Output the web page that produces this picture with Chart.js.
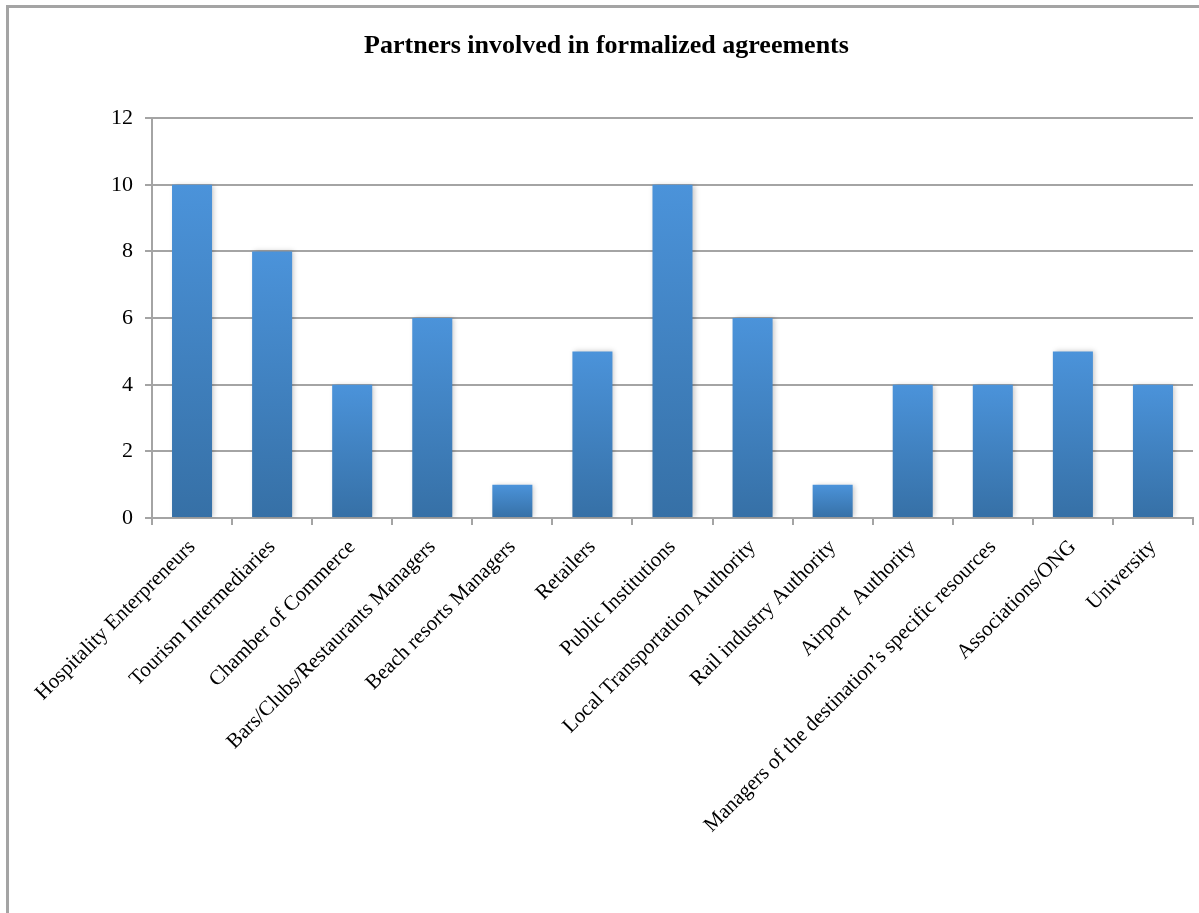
<!DOCTYPE html>
<html>
<head>
<meta charset="utf-8">
<script src="https://cdn.jsdelivr.net/npm/chart.js@4/dist/chart.umd.min.js"></script>
<style>
    html, body { margin: 0; padding: 0; background: #fff; }
    body { width: 1199px; height: 913px; position: relative; overflow: hidden; }
    #frame {
        position: absolute; left: 6px; top: 5px; width: 1400px; height: 1000px;
        border-left: 3px solid #a4a4a4; border-top: 3px solid #a4a4a4;
    }
    #chartWrap { position: absolute; left: 0; top: 0; width: 1199px; height: 913px; }
</style>
</head>
<body>
<div id="frame"></div>
<div id="chartWrap"><canvas id="partnersChart"></canvas></div>
<script>
// === Data ===
const categories = [
    'Hospitality Enterpreneurs',
    'Tourism Intermediaries',
    'Chamber of Commerce',
    'Bars/Clubs/Restaurants Managers',
    'Beach resorts Managers',
    'Retailers',
    'Public Institutions',
    'Local Transportation Authority',
    'Rail industry Authority',
    'Airport  Authority',
    'Managers of the destination\u2019s specific resources',
    'Associations/ONG',
    'University'
];
const partnerCounts = [10, 8, 4, 6, 1, 5, 10, 6, 1, 4, 4, 5, 4];
const yTicks = [0, 2, 4, 6, 8, 10, 12];

const serif = '"Liberation Serif", "Times New Roman", serif';

document.addEventListener('DOMContentLoaded', () => {
    const ctx = document.getElementById('partnersChart').getContext('2d');

    // vertical gradient per bar, lighter at the top
    function barGradient(context) {
        const chart = context.chart;
        const yScale = chart.scales.y;
        if (!chart.chartArea || !yScale) return '#4a8fd5';
        const value = context.raw;
        const top = yScale.getPixelForValue(value);
        const base = yScale.getPixelForValue(0);
        if (!isFinite(top) || !isFinite(base) || top === base) return '#4a8fd5';
        const g = chart.ctx.createLinearGradient(0, top, 0, base);
        g.addColorStop(0, '#4b93da');
        g.addColorStop(1, '#3670a6');
        return g;
    }

    // soft shadow behind the bars
    const barShadow = {
        id: 'barShadow',
        beforeDatasetDraw(chart) {
            const c = chart.ctx;
            c.save();
            c.shadowColor = 'rgba(0,0,0,0.22)';
            c.shadowBlur = 5;
            c.shadowOffsetX = 2;
            c.shadowOffsetY = 0;
        },
        afterDatasetDraw(chart) {
            chart.ctx.restore();
        }
    };

    new Chart(ctx, {
        type: 'bar',
        data: {
            labels: categories,
            datasets: [{
                label: 'Partners',
                data: partnerCounts,
                backgroundColor: barGradient,
                borderWidth: 0,
                barPercentage: 0.5,
                categoryPercentage: 1.0
            }]
        },
        options: {
            responsive: true,
            maintainAspectRatio: false,
            animation: false,
            layout: { padding: { left: 20, right: 6, top: 0, bottom: 0 } },
            plugins: {
                legend: { display: false },
                tooltip: { enabled: false },
                title: {
                    display: true,
                    text: 'Partners involved in formalized agreements',
                    color: '#000',
                    font: { family: serif, size: 26, weight: 'bold' },
                    padding: { top: 31, bottom: 56 }
                }
            },
            scales: {
                x: {
                    grid: {
                        display: true,
                        drawOnChartArea: false,
                        drawTicks: true,
                        tickLength: 7,
                        color: '#a4a4a4',
                        lineWidth: 2
                    },
                    border: { display: true, color: '#a4a4a4', width: 2 },
                    ticks: {
                        color: '#000',
                        font: { family: serif, size: 21 },
                        minRotation: 45,
                        maxRotation: 45,
                        autoSkip: false,
                        padding: 10
                    },
                    afterFit(scale) { scale.height = 395; }
                },
                y: {
                    min: 0,
                    max: 12,
                    afterBuildTicks(scale) {
                        scale.ticks = yTicks.map(v => ({ value: v }));
                    },
                    grid: {
                        color: '#a4a4a4',
                        lineWidth: 2,
                        drawTicks: true,
                        tickLength: 7
                    },
                    border: { display: true, color: '#a4a4a4', width: 2 },
                    ticks: {
                        color: '#000',
                        font: { family: serif, size: 22 },
                        padding: 12
                    },
                    afterFit(scale) { scale.width = 132; }
                }
            }
        },
        plugins: [barShadow]
    });
});
</script>
</body>
</html>
